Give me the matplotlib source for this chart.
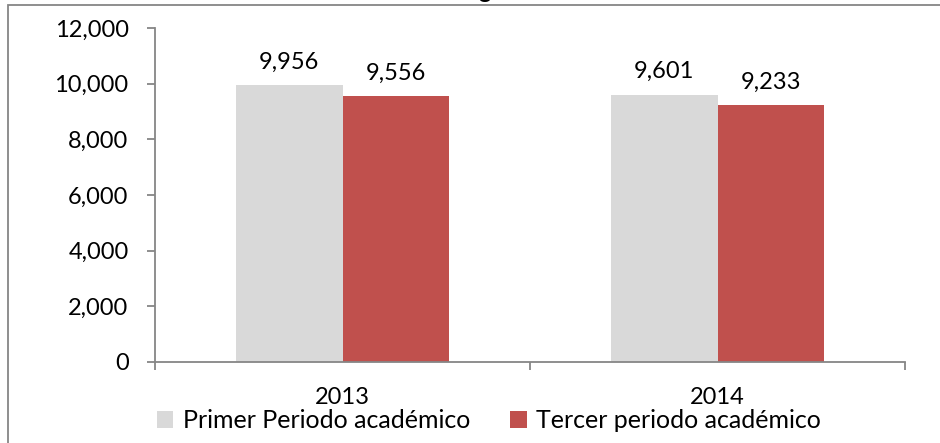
import matplotlib
matplotlib.use("Agg")
import matplotlib.pyplot as plt
from matplotlib.patches import Rectangle
from matplotlib.ticker import FuncFormatter
import numpy as np

categories = ["2013", "2014"]
series_names = ["Primer Periodo académico", "Tercer periodo académico"]
primer = [9956, 9601]
tercer = [9556, 9233]
colors = ["#D9D9D9", "#C0504D"]

plt.rcParams['font.family'] = ['Lato', 'DejaVu Sans']

W, H = 940, 443
fig = plt.figure(figsize=(W / 100, H / 100), dpi=100)
ax = fig.add_axes([155 / W, 1 - 362 / H, (905 - 155) / W, (362 - 28) / H])

x = np.arange(len(categories))
bw = 0.285
b1 = ax.bar(x - bw / 2, primer, bw, color=colors[0], label=series_names[0])
b2 = ax.bar(x + bw / 2, tercer, bw, color=colors[1], label=series_names[1])

for bars, vals in ((b1, primer), (b2, tercer)):
    for r, v in zip(bars, vals):
        ax.annotate(f"{v:,}", (r.get_x() + r.get_width() / 2, v),
                    xytext=(0, 9), textcoords="offset points",
                    ha="center", va="bottom", fontsize=17, color="black")

ax.set_xlim(-0.5, 1.5)
ax.set_ylim(0, 12000)
ax.set_yticks(range(0, 12001, 2000))
ax.yaxis.set_major_formatter(FuncFormatter(lambda v, p: f"{int(v):,}"))
ax.set_xticks([-0.5, 0.5, 1.5])
ax.set_xticklabels([])
ax.set_xticks(x, minor=True)
ax.set_xticklabels(categories, minor=True)
ax.tick_params(axis="x", which="minor", length=0, pad=18, labelsize=17)
ax.tick_params(axis="x", which="major", length=6, width=1.3, color="#868686")
ax.tick_params(axis="y", length=6, width=1.3, color="#868686", pad=13, labelsize=17)

for s in ["top", "right"]:
    ax.spines[s].set_visible(False)
for s in ["left", "bottom"]:
    ax.spines[s].set_color("#868686")
    ax.spines[s].set_linewidth(1.3)

leg = fig.legend(handles=[b1, b2], labels=series_names, loc="center",
                 bbox_to_anchor=(489 / W, 1 - 421 / H), ncol=2, frameon=False,
                 fontsize=18, handlelength=0.65, handleheight=0.65,
                 handletextpad=0.4, columnspacing=1.6, borderpad=0.1)

# outer chart frame
fig.patches.append(Rectangle((8 / W, -0.1), 1.2, 1 - 5 / H + 0.1,
                             transform=fig.transFigure, fill=False,
                             edgecolor="#868686", linewidth=1.3))

# cropped title descender visible at top edge
fig.text(485 / W, 1 + 2 / H, "g", ha="center", va="baseline",
         fontsize=17, fontweight="bold")

fig.savefig("out.png", dpi=100)
